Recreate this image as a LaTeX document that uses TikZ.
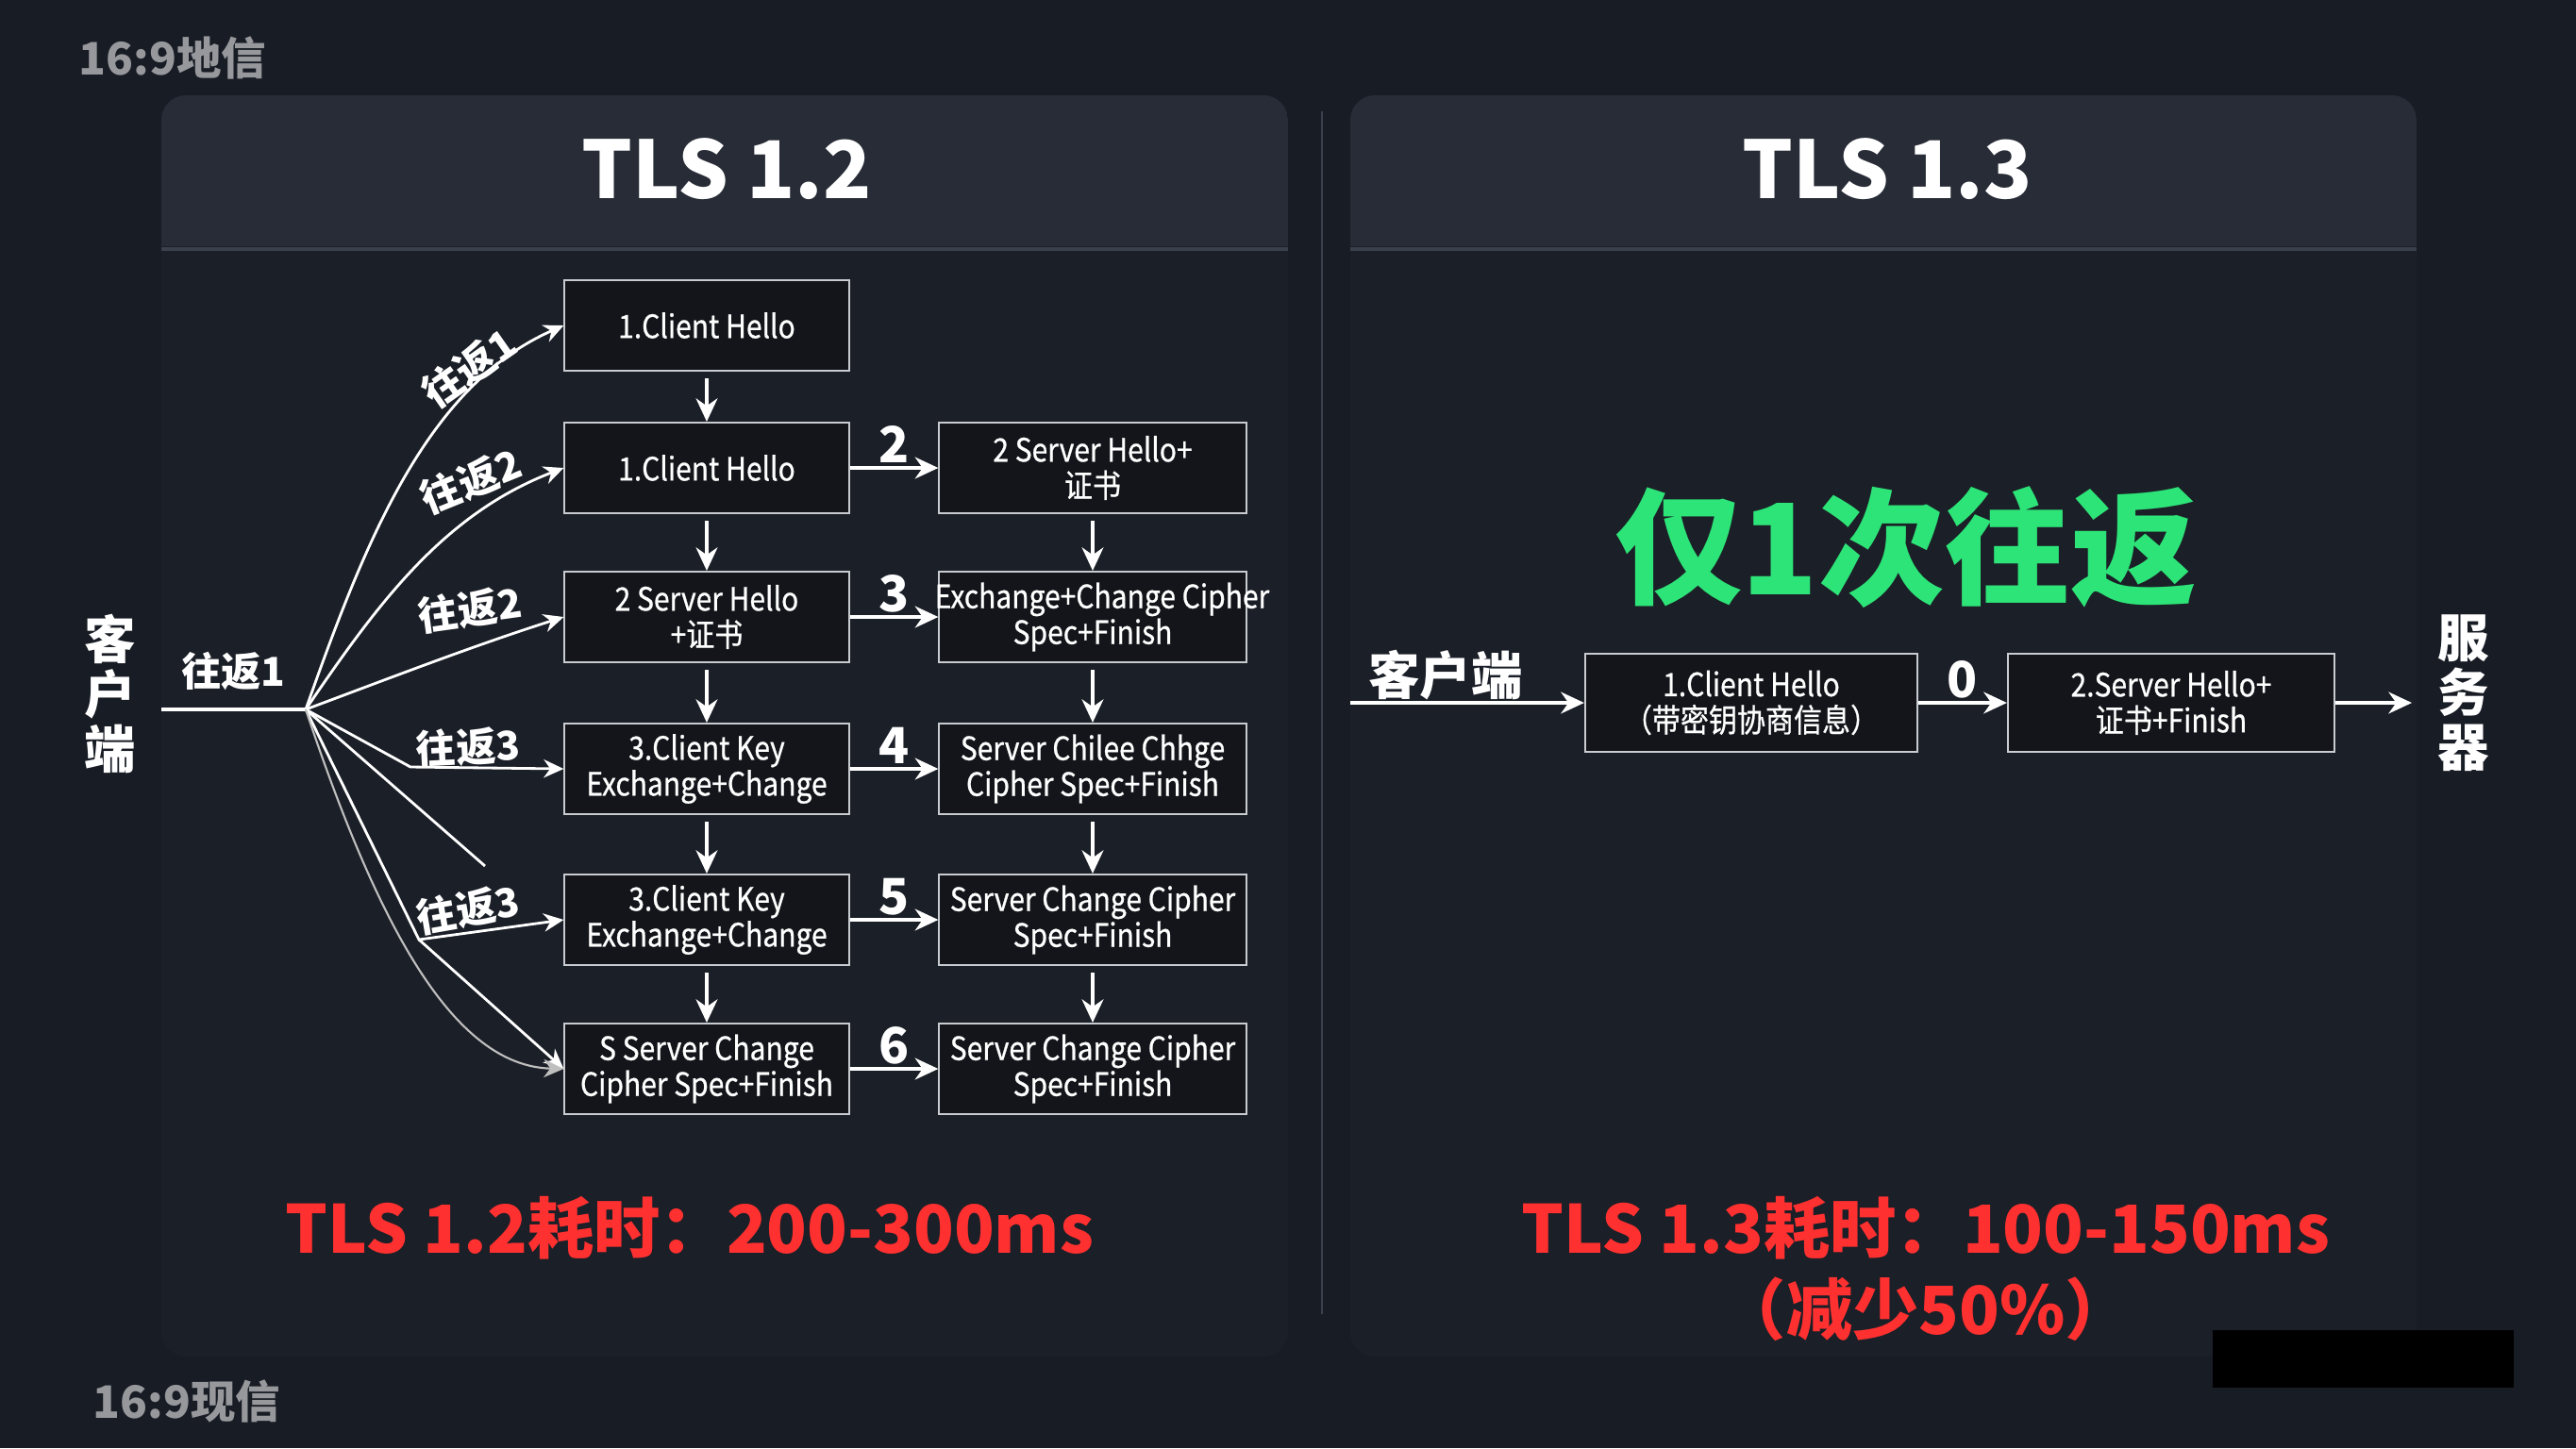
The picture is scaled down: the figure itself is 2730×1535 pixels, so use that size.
\documentclass[tikz,border=0pt]{standalone}
\usepackage{fontspec}
\setmainfont{Noto Sans CJK SC}
\newfontfamily\boxfont{Noto Sans CJK SC}[FakeStretch=0.88,FakeBold=0.7]
\usepackage{tikz}
\usetikzlibrary{arrows.meta}

\definecolor{pagebg}{RGB}{24,28,36}
\definecolor{panelbg}{RGB}{27,31,39}
\definecolor{headbg}{RGB}{39,44,54}
\definecolor{boxbg}{RGB}{19,21,26}
\definecolor{boxline}{RGB}{200,203,208}
\definecolor{marktext}{RGB}{150,152,156}
\definecolor{timered}{RGB}{255,48,48}
\definecolor{onegreen}{RGB}{45,228,120}
\definecolor{sepline}{RGB}{58,64,76}

\begin{document}
\begin{tikzpicture}[x=0.01cm,y=-0.01cm,
  msgbox/.style={draw=boxline,line width=0.6pt,fill=boxbg,text=white,align=center,
    minimum height=0.96cm,inner sep=1pt,font=\boxfont\fontsize{9.7}{10.8}\selectfont},
  leftbox/.style={msgbox,minimum width=3.01cm},
  rightbox/.style={msgbox,minimum width=3.25cm},
  arr/.style={-{Stealth[length=7pt,width=6.5pt]},white,line width=1pt},
  fan/.style={-{Stealth[length=6pt,width=5.5pt]},white,line width=0.8pt},
  trip/.style={text=white,font=\bfseries\fontsize{12}{12}\selectfont},
  num/.style={text=white,font=\bfseries\fontsize{15}{15}\selectfont,inner sep=1pt},
  side/.style={text=white,align=center,font=\bfseries\fontsize{15.5}{16.5}\selectfont},
  headtext/.style={text=white,font=\bfseries\fontsize{24}{24}\selectfont},
  cost/.style={text=timered,align=center,font=\bfseries\fontsize{20}{24.5}\selectfont},
  wmark/.style={text=marktext,font=\bfseries\fontsize{13.5}{13.5}\selectfont}]

  % page
  \fill[pagebg] (0,0) rectangle (2730,1535);
  \useasboundingbox (0,0) rectangle (2730,1535);

  % panels
  \foreach \xa/\xb in {171/1365,1431/2561} {
    \begin{scope}
      \clip[rounded corners=0.26cm] (\xa,101) rectangle (\xb,1438);
      \fill[panelbg] (\xa,101) rectangle (\xb,1438);
      \fill[headbg] (\xa,101) rectangle (\xb,261);
      \draw[sepline,line width=1pt] (\xa,264) -- (\xb,264);
    \end{scope}
  }
  \draw[sepline,line width=0.8pt] (1401,118) -- (1401,1393);

  % watermarks
  \node[wmark] (wm1) at (183,61) {16:9地信};
  \node[wmark] (wm2) at (198,1485) {16:9现信};
  \fill[black] (2345,1410) rectangle (2664,1471);

  % titles
  \node[headtext] (t12) at (770,179) {TLS 1.2};
  \node[headtext] (t13) at (2000,179) {TLS 1.3};

  % TLS 1.2 client
  \node[side] (client) at (117,735) {客\\户\\端};
  \coordinate (start) at (171,752);
  \coordinate (hub) at (324,752);
  \draw[white,line width=0.9pt] (start) -- node[trip,above=2pt] (r0) {往返1} (hub);

  % message boxes
  \node[leftbox] (c1) at (749,345) {1.Client Hello};
  \node[leftbox] (c2) at (749,496) {1.Client Hello};
  \node[leftbox] (c3) at (749,654) {2 Server Hello\\+证书};
  \node[leftbox] (c4) at (749,815) {3.Client Key\\Exchange+Change};
  \node[leftbox] (c5) at (749,975) {3.Client Key\\Exchange+Change};
  \node[leftbox] (c6) at (749,1133) {S Server Change\\Cipher Spec+Finish};
  \node[rightbox] (s2) at (1158,496) {2 Server Hello+\\证书};
  \node[rightbox] (s3) at (1158,654) {\makebox[3.05cm]{\hspace{0.2cm}Exchange+Change Cipher}\\Spec+Finish};
  \node[rightbox] (s4) at (1158,815) {Server Chilee Chhge\\Cipher Spec+Finish};
  \node[rightbox] (s5) at (1158,975) {Server Change Cipher\\Spec+Finish};
  \node[rightbox] (s6) at (1158,1133) {Server Change Cipher\\Spec+Finish};

  % down arrows
  \foreach \a/\b in {c1/c2,c2/c3,c3/c4,c4/c5,c5/c6,s2/s3,s3/s4,s4/s5,s5/s6}
    \draw[arr,shorten <=2pt] (\a.south) -- (\b.north);
  % numbered arrows
  \foreach \r in {2,...,6}
    \draw[arr] (c\r.east) -- node[num,above=0pt] {\r} (s\r.west);

  % fan of round trips
  \coordinate (k4) at (435,813);
  \coordinate (k5) at (444,996);
  \coordinate (stub) at (514,918);
  \draw[fan] (hub) .. controls (385,580) and (450,410) .. (c1.west);
  \draw[fan] (hub) .. controls (400,640) and (470,545) .. (c2.west);
  \draw[fan] (hub) .. controls (410,720) and (500,685) .. (c3.west);
  \draw[fan] (hub) -- (k4) -- (c4.west);
  \draw[fan] (hub) -- (k5) -- (c5.west);
  \draw[fan] (k5) -- (c6.west);
  \draw[white,line width=0.8pt] (hub) -- (stub);
  \draw[fan,draw=white!75!black,line width=0.6pt] (hub) .. controls (400,980) and (480,1130) .. (c6.west);

  \node[trip,rotate=35] (r1) at (497,390) {往返1};
  \node[trip,rotate=22] (r2a) at (499,510) {往返2};
  \node[trip,rotate=8] (r2b) at (498,646) {往返2};
  \node[trip,rotate=3] (r3a) at (496,792) {往返3};
  \node[trip,rotate=10] (r3b) at (496,964) {往返3};

  \node[cost] (cost12) at (731,1302) {TLS 1.2耗时：200-300ms};

  % TLS 1.3
  \node[text=onegreen,font=\bfseries\fontsize{38}{38}\selectfont] (once) at (2020,580) {仅1次往返};
  \node[side] (client13) at (1532,716) {客户端};
  \coordinate (in13) at (1431,745);
  \node[msgbox,minimum width=3.52cm,minimum height=1.04cm] (h1) at (1856,745) {1.Client Hello\\（带密钥协商信息）};
  \node[msgbox,minimum width=3.46cm,minimum height=1.04cm] (h2) at (2301,745) {2.Server Hello+\\证书+Finish};
  \coordinate (out13) at (2556,745);
  \node[side] (server) at (2611,735) {服\\务\\器};
  \draw[arr] (in13) -- (h1.west);
  \draw[arr] (h1.east) -- node[num,above=0pt] (zero) {0} (h2.west);
  \draw[arr] (h2.east) -- (out13);

  \node[cost] (cost13) at (2041,1345) {TLS 1.3耗时：100-150ms\\（减少50\%）};
\end{tikzpicture}
\end{document}
